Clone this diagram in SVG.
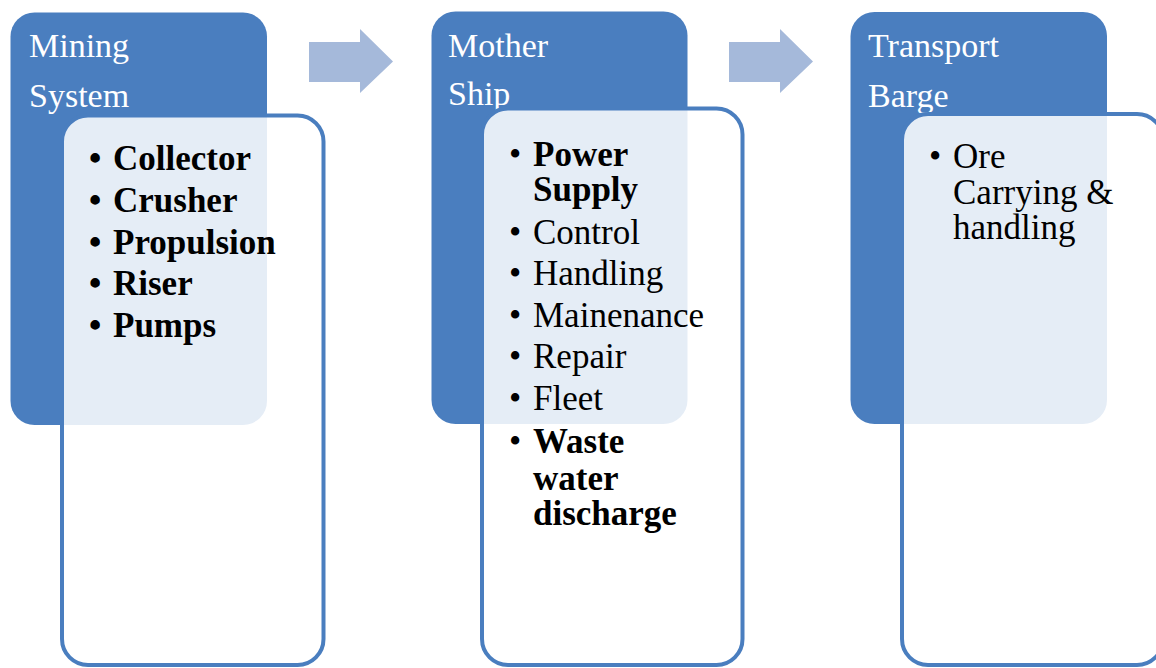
<svg xmlns="http://www.w3.org/2000/svg" width="1156" height="668" viewBox="0 0 1156 668">
  <style>
    .outer { fill: #4A7EBF; }
    .inner { fill: #FFFFFF; fill-opacity: 0.86; stroke: #4A7EBF; stroke-width: 4; }
    .arrow { fill: #A5B9DA; }
    .title { font-family: "Liberation Serif", "Times New Roman", serif; font-size: 34px; fill: #FFFFFF; }
    .item { font-family: "Liberation Serif", "Times New Roman", serif; font-size: 35px; fill: #000000; }
    .b { font-weight: bold; }
  </style>
  <rect width="1156" height="668" fill="#FFFFFF"/>

  <g id="connectors">
    <polygon class="arrow" points="309,42 360,42 360,29 393,61.5 360,93 360,82 309,82"/>
    <polygon class="arrow" points="729,42 780,42 780,29 813,61.5 780,93 780,82 729,82"/>
  </g>

  <g id="node-mining-system">
    <rect class="outer" x="10.5" y="12.5" width="256.5" height="412.5" rx="24"/>
    <text class="title" x="29" y="57">Mining</text>
    <text class="title" x="29" y="107">System</text>
    <rect class="inner" x="62" y="115.5" width="261.5" height="549.5" rx="26"/>
    <g class="item b">
      <text x="89" y="170">•</text><text x="113" y="170">Collector</text>
      <text x="89" y="212">•</text><text x="113" y="212">Crusher</text>
      <text x="89" y="254">•</text><text x="113" y="254">Propulsion</text>
      <text x="89" y="295">•</text><text x="113" y="295">Riser</text>
      <text x="89" y="337">•</text><text x="113" y="337">Pumps</text>
    </g>
  </g>

  <g id="node-mother-ship">
    <rect class="outer" x="431.5" y="11.5" width="256" height="412.5" rx="24"/>
    <text class="title" x="448" y="57">Mother</text>
    <text class="title" x="448" y="105">Ship</text>
    <rect class="inner" x="482" y="108.5" width="260.5" height="556.5" rx="26"/>
    <g class="item">
      <text x="509" y="166">•</text>
      <text class="b" x="533" y="166">Power<tspan x="533" y="201">Supply</tspan></text>
      <text x="509" y="244">•</text><text x="533" y="244">Control</text>
      <text x="509" y="285">•</text><text x="533" y="285">Handling</text>
      <text x="509" y="327">•</text><text x="533" y="327">Mainenance</text>
      <text x="509" y="368">•</text><text x="533" y="368">Repair</text>
      <text x="509" y="410">•</text><text x="533" y="410">Fleet</text>
      <text x="509" y="453">•</text>
      <text class="b" x="533" y="453">Waste<tspan x="533" y="490">water</tspan><tspan x="533" y="525">discharge</tspan></text>
    </g>
  </g>

  <g id="node-transport-barge">
    <rect class="outer" x="850.5" y="12" width="256.5" height="412" rx="24"/>
    <text class="title" x="868" y="57">Transport</text>
    <text class="title" x="868" y="107">Barge</text>
    <rect class="inner" x="902" y="114" width="261" height="551" rx="26"/>
    <g class="item">
      <text x="929" y="168">•</text>
      <text x="953" y="168">Ore<tspan x="953" y="204">Carrying &amp;</tspan><tspan x="953" y="239">handling</tspan></text>
    </g>
  </g>
</svg>
